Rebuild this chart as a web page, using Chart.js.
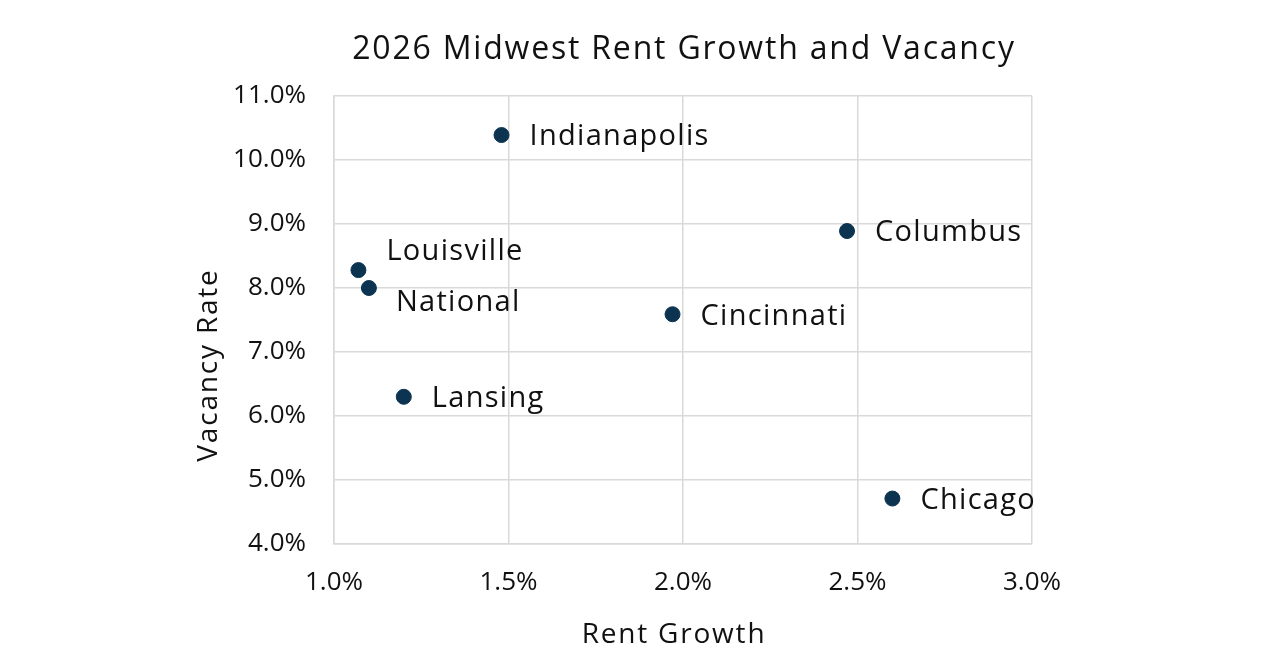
<!DOCTYPE html>
<html>
<head>
<meta charset="utf-8">
<script src="https://cdn.jsdelivr.net/npm/chart.js@4"></script>
<style>
html,body{margin:0;padding:0;background:#fff;}
#wrap{width:1265px;height:662px;}
</style>
</head>
<body>
<div id="wrap"><canvas id="c" width="1265" height="662"></canvas></div>
<script>
const cities = ['Indianapolis','Columbus','Louisville','National','Cincinnati','Lansing','Chicago'];
const rentGrowth = [1.48, 2.47, 1.07, 1.10, 1.97, 1.20, 2.60];
const vacancyRate = [10.39, 8.89, 8.28, 8.00, 7.59, 6.30, 4.71];
const xTicks = [1.0, 1.5, 2.0, 2.5, 3.0];
const yTicks = [4.0, 5.0, 6.0, 7.0, 8.0, 9.0, 10.0, 11.0];
const labelPlacement = ['right','right','aboveRight','belowRight','right','right','right'];
const chartTitle = '2026 Midwest Rent Growth and Vacancy';
const xTitle = 'Rent Growth';
const yTitle = 'Vacancy Rate';

const FONT = "'Open Sans', 'Noto Sans', sans-serif";
const TXT = '#111111';

const textPlugin = {
  id: 'texts',
  afterDatasetsDraw(chart) {
    const ctx = chart.ctx;
    const a = chart.chartArea;
    const meta = chart.getDatasetMeta(0);
    ctx.save();
    ctx.fillStyle = TXT;
    ctx.textBaseline = 'middle';
    // point labels
    ctx.font = "29px " + FONT;
    ctx.letterSpacing = '1.3px';
    ctx.textAlign = 'left';
    meta.data.forEach((pt, i) => {
      let x = pt.x + 28, y = pt.y + 2;
      if (labelPlacement[i] === 'aboveRight') { x = pt.x + 28; y = pt.y - 18; }
      if (labelPlacement[i] === 'belowRight') { x = pt.x + 27; y = pt.y + 15; }
      ctx.fillText(cities[i], x, y);
    });
    // chart title
    ctx.textAlign = 'center';
    ctx.font = "32px " + FONT;
    ctx.letterSpacing = '1.8px';
    ctx.fillText(chartTitle, (a.left + a.right) / 2 + 1, 50);
    // x title
    ctx.font = "28px " + FONT;
    ctx.letterSpacing = '1.8px';
    ctx.fillText(xTitle, (a.left + a.right) / 2 - 9, 635);
    // y title
    ctx.translate(209, (a.top + a.bottom) / 2 + 45);
    ctx.rotate(-Math.PI / 2);
    ctx.fillText(yTitle, 0, 0);
    ctx.restore();
  }
};

new Chart(document.getElementById('c'), {
  type: 'scatter',
  data: {
    datasets: [{
      data: rentGrowth.map((v, i) => ({x: v, y: vacancyRate[i]})),
      backgroundColor: '#0c3350',
      borderColor: '#0c3350',
      pointRadius: 7.5,
      pointHoverRadius: 7.5
    }]
  },
  plugins: [textPlugin],
  options: {
    responsive: false,
    animation: false,
    devicePixelRatio: 1,
    layout: { padding: { left: 192, right: 233, top: 96, bottom: 12 } },
    plugins: {
      legend: { display: false },
      tooltip: { enabled: false },
      title: { display: false }
    },
    scales: {
      x: {
        type: 'linear',
        min: 1.0, max: 3.0,
        afterBuildTicks(s) { s.ticks = xTicks.map(v => ({value: v})); },
        afterFit(s) { s.height = 106; },
        grid: { color: '#d9d9d9', lineWidth: 1.5, drawTicks: false },
        border: { color: '#d9d9d9', width: 1.5 },
        ticks: {
          color: TXT, padding: 23,
          font: { family: FONT, size: 26 },
          callback: v => v.toFixed(1) + '%'
        },
        title: { display: false }
      },
      y: {
        type: 'linear',
        min: 4.0, max: 11.0,
        afterBuildTicks(s) { s.ticks = yTicks.map(v => ({value: v})); },
        afterFit(s) { s.width = 142; },
        grid: { color: '#d9d9d9', lineWidth: 1.5, drawTicks: false },
        border: { color: '#d9d9d9', width: 1.5 },
        ticks: {
          color: TXT, padding: 28,
          font: { family: FONT, size: 26 },
          callback: v => v.toFixed(1) + '%'
        },
        title: { display: false }
      }
    }
  }
});
</script>
</body>
</html>
